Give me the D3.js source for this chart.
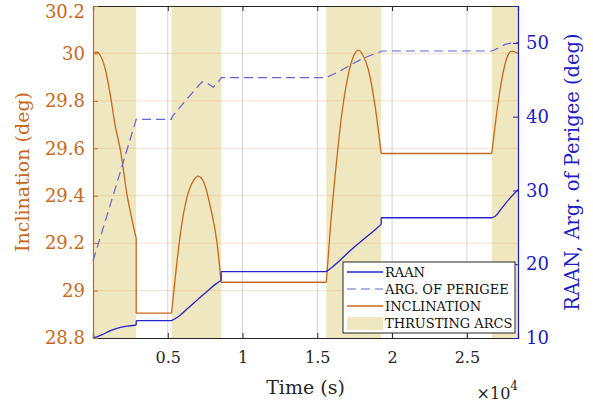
<!DOCTYPE html>
<html>
<head>
<meta charset="utf-8">
<script src="https://cdn.jsdelivr.net/npm/d3@7"></script>
<style>
  body { margin: 0; background: #fff; }
  svg text { font-family: "DejaVu Serif", serif; }
</style>
</head>
<body>
<div id="chart"></div>
<script>
// thrusting arcs [start, end] in seconds
const arcs = [[0, 2890], [5250, 8570], [15600, 19270], [26670, 28420]];

// inclination (deg), left axis
const incT = [0, 280, 500, 835, 1170, 1500, 1840, 2285, 2570, 2890, 2890, 5250,
  5510, 5845, 6290, 6730, 7030, 7400, 7850, 8300, 8570, 15600,
  15880, 16200, 16650, 17090, 17400, 17755, 18070, 18420, 18870, 19270, 26670,
  27000, 27335, 27670, 28000, 28335, 28420];
const incV = [30.0, 30.005, 29.99, 29.93, 29.82, 29.69, 29.59, 29.40, 29.31, 29.22, 28.905, 28.905,
  29.06, 29.24, 29.395, 29.465, 29.483, 29.458, 29.353, 29.198, 29.035, 29.035,
  29.27, 29.49, 29.75, 29.916, 29.985, 30.014, 29.99, 29.93, 29.775, 29.578, 29.578,
  29.75, 29.89, 29.98, 30.01, 30.003, 29.998];

// RAAN (deg), right axis
const raanT = [0, 500, 1170, 1840, 2285, 2890, 2890, 5250, 5600, 6300, 7000, 7700, 8200, 8570, 8570,
  15600, 15900, 17400, 18900, 19270, 19270, 26670, 26900, 27300, 27900, 28420];
const raanV = [10.0, 10.35, 10.99, 11.45, 11.6, 11.76, 12.35, 12.35, 12.75, 13.95, 15.2, 16.45, 17.3, 17.8, 19.0,
  19.0, 19.45, 22.2, 24.75, 25.4, 26.3, 26.3, 26.5, 27.5, 29.0, 30.1];

// argument of perigee (deg), right axis
const argT = [0, 1450, 2890, 5250, 5290, 6200, 7100, 7300, 7550, 8050, 8450, 8570,
  15600, 16310, 17200, 18070, 19200, 19270, 26670, 27220, 27555, 28060, 28420];
const argV = [20.44, 30.0, 39.64, 39.64, 40.0, 42.2, 44.3, 44.7, 44.6, 43.98, 44.9, 45.3,
  45.3, 45.96, 47.0, 47.91, 48.8, 48.9, 48.9, 49.4, 49.8, 50.0, 50.05];

const xTicks = [5000, 10000, 15000, 20000, 25000];
const incTicks = [28.8, 29, 29.2, 29.4, 29.6, 29.8, 30, 30.2];
const rightTicks = [10, 20, 30, 40, 50];

const legendItems = ['RAAN', 'ARG. OF PERIGEE', 'INCLINATION', 'THRUSTING ARCS'];

const width = 593, height = 409;
const margin = { top: 6, right: 75, bottom: 71, left: 93 };

const orange = '#c8681c';
const blue = '#1c1cc8';
const raanColor = '#2424d0';
const argColor = '#6464d8';
const shade = '#efe7bf';

const svg = d3.select('#chart')
  .append('svg')
  .attr('width', width)
  .attr('height', height);

const x = d3.scaleLinear()
  .domain([0, 28420])
  .range([margin.left, width - margin.right]);

const yL = d3.scaleLinear()
  .domain([28.8, 30.2])
  .range([height - margin.bottom, margin.top]);

const yR = d3.scaleLinear()
  .domain([10, 55])
  .range([height - margin.bottom, margin.top]);

const pTop = margin.top, pBottom = height - margin.bottom;
const pLeft = margin.left, pRight = width - margin.right;

// thrusting arcs
svg.append('g')
  .selectAll('rect')
  .data(arcs)
  .join('rect')
  .attr('x', d => x(d[0]))
  .attr('width', d => x(d[1]) - x(d[0]))
  .attr('y', pTop)
  .attr('height', pBottom - pTop)
  .attr('fill', shade);

// grid
svg.append('g')
  .selectAll('line')
  .data(xTicks)
  .join('line')
  .attr('x1', d => x(d)).attr('x2', d => x(d))
  .attr('y1', pTop).attr('y2', pBottom)
  .attr('stroke', '#d4d4d4')
  .attr('stroke-width', 1);

svg.append('g')
  .selectAll('line')
  .data(incTicks.slice(1, -1))
  .join('line')
  .attr('x1', pLeft).attr('x2', pRight)
  .attr('y1', d => yL(d)).attr('y2', d => yL(d))
  .attr('stroke', '#e9a878')
  .attr('stroke-opacity', 0.35)
  .attr('stroke-width', 1);

// split a series into smooth runs; flat stretches and jumps stay straight
const pieces = (t, v) => {
  const out = [];
  let cur = [[t[0], v[0]]];
  for (let i = 1; i < t.length; i++) {
    const p = [t[i], v[i]];
    if (t[i] === t[i - 1] || v[i] === v[i - 1]) {
      if (cur.length > 1) out.push(cur);
      out.push([[t[i - 1], v[i - 1]], p]);
      cur = [p];
    } else {
      cur.push(p);
    }
  }
  if (cur.length > 1) out.push(cur);
  return out;
};

const pathFor = (t, v, y, curve) => {
  const gen = d3.line().x(d => x(d[0])).y(d => y(d[1])).curve(curve);
  return pieces(t, v).map(gen).join('');
};

svg.append('path')
  .attr('d', pathFor(incT, incV, yL, d3.curveMonotoneX))
  .attr('fill', 'none')
  .attr('stroke', orange)
  .attr('stroke-width', 1.3);

svg.append('path')
  .datum(argT.map((d, i) => [d, argV[i]]))
  .attr('d', d3.line().x(d => x(d[0])).y(d => yR(d[1])))
  .attr('fill', 'none')
  .attr('stroke', argColor)
  .attr('stroke-width', 1.2)
  .attr('stroke-dasharray', '9,5');

svg.append('path')
  .attr('d', pathFor(raanT, raanV, yR, d3.curveMonotoneX))
  .attr('fill', 'none')
  .attr('stroke', raanColor)
  .attr('stroke-width', 1.3);

// axes
const xAxisB = d3.axisBottom(x).tickValues(xTicks).tickSize(-5).tickPadding(14)
  .tickFormat(d => d3.format('~g')(d / 10000));
const xAxisT = d3.axisTop(x).tickValues(xTicks).tickSize(-5).tickFormat('');
const yAxisL = d3.axisLeft(yL).tickValues(incTicks).tickSize(-5).tickPadding(8)
  .tickFormat(d => d3.format('~g')(d));
const yAxisR = d3.axisRight(yR).tickValues(rightTicks).tickSize(-5).tickPadding(8);

const gB = svg.append('g')
  .attr('transform', `translate(0,${pBottom})`)
  .call(xAxisB);
gB.select('.domain').attr('stroke', '#262626').attr('stroke-width', 1.2);
gB.selectAll('.tick line').attr('stroke', '#262626');
gB.selectAll('.tick text').attr('fill', '#262626').style('font-size', '16px');

const gT = svg.append('g')
  .attr('transform', `translate(0,${pTop})`)
  .call(xAxisT);
gT.select('.domain').attr('stroke', '#262626').attr('stroke-width', 1.2);
gT.selectAll('.tick line').attr('stroke', '#262626');

const gL = svg.append('g')
  .attr('transform', `translate(${pLeft},0)`)
  .call(yAxisL);
gL.select('.domain').attr('stroke', orange).attr('stroke-width', 1.2);
gL.selectAll('.tick line').attr('stroke', orange);
gL.selectAll('.tick text').attr('fill', orange).style('font-size', '18px');
// keep the top label inside the page
gL.selectAll('.tick text').filter(d => d === 30.2).attr('y', 6);

const gR = svg.append('g')
  .attr('transform', `translate(${pRight},0)`)
  .call(yAxisR);
gR.select('.domain').attr('stroke', blue).attr('stroke-width', 1.2);
gR.selectAll('.tick line').attr('stroke', blue);
gR.selectAll('.tick text').attr('fill', blue).style('font-size', '18px');

// axis titles
svg.append('text')
  .attr('transform', `translate(29,${(pTop + pBottom) / 2}) rotate(-90)`)
  .attr('text-anchor', 'middle')
  .attr('fill', orange)
  .style('font-size', '19px')
  .text('Inclination (deg)');

svg.append('text')
  .attr('transform', `translate(579,${(pTop + pBottom) / 2}) rotate(-90)`)
  .attr('text-anchor', 'middle')
  .attr('fill', blue)
  .style('font-size', '19.5px')
  .text('RAAN, Arg. of Perigee (deg)');

svg.append('text')
  .attr('x', (pLeft + pRight) / 2)
  .attr('y', 394)
  .attr('text-anchor', 'middle')
  .attr('fill', '#262626')
  .style('font-size', '19px')
  .text('Time (s)');

const exp = svg.append('text')
  .attr('x', pRight)
  .attr('y', 399)
  .attr('text-anchor', 'end')
  .attr('fill', '#262626')
  .style('font-size', '16px');
exp.append('tspan').text('×10');
exp.append('tspan').attr('dy', -9).style('font-size', '12px').text('4');

// legend
const lg = svg.append('g').attr('transform', 'translate(343,262)');
lg.append('rect')
  .attr('width', 172).attr('height', 71)
  .attr('fill', '#fff')
  .attr('stroke', '#262626')
  .attr('stroke-width', 1);

const rows = lg.selectAll('g.row')
  .data(legendItems)
  .join('g')
  .attr('class', 'row')
  .attr('transform', (d, i) => `translate(4,${10 + i * 17})`);

rows.filter((d, i) => i === 0).append('line')
  .attr('x1', 0).attr('x2', 36).attr('stroke', raanColor).attr('stroke-width', 1.3);
rows.filter((d, i) => i === 1).append('line')
  .attr('x1', 0).attr('x2', 36).attr('stroke', argColor).attr('stroke-width', 1.2)
  .attr('stroke-dasharray', '9,5');
rows.filter((d, i) => i === 2).append('line')
  .attr('x1', 0).attr('x2', 36).attr('stroke', orange).attr('stroke-width', 1.3);
rows.filter((d, i) => i === 3).append('rect')
  .attr('x', 0).attr('y', -6).attr('width', 36).attr('height', 13).attr('fill', shade);

rows.append('text')
  .attr('x', 38)
  .attr('dy', '0.35em')
  .attr('fill', '#111')
  .style('font-size', '13px')
  .text(d => d);
</script>
</body>
</html>
